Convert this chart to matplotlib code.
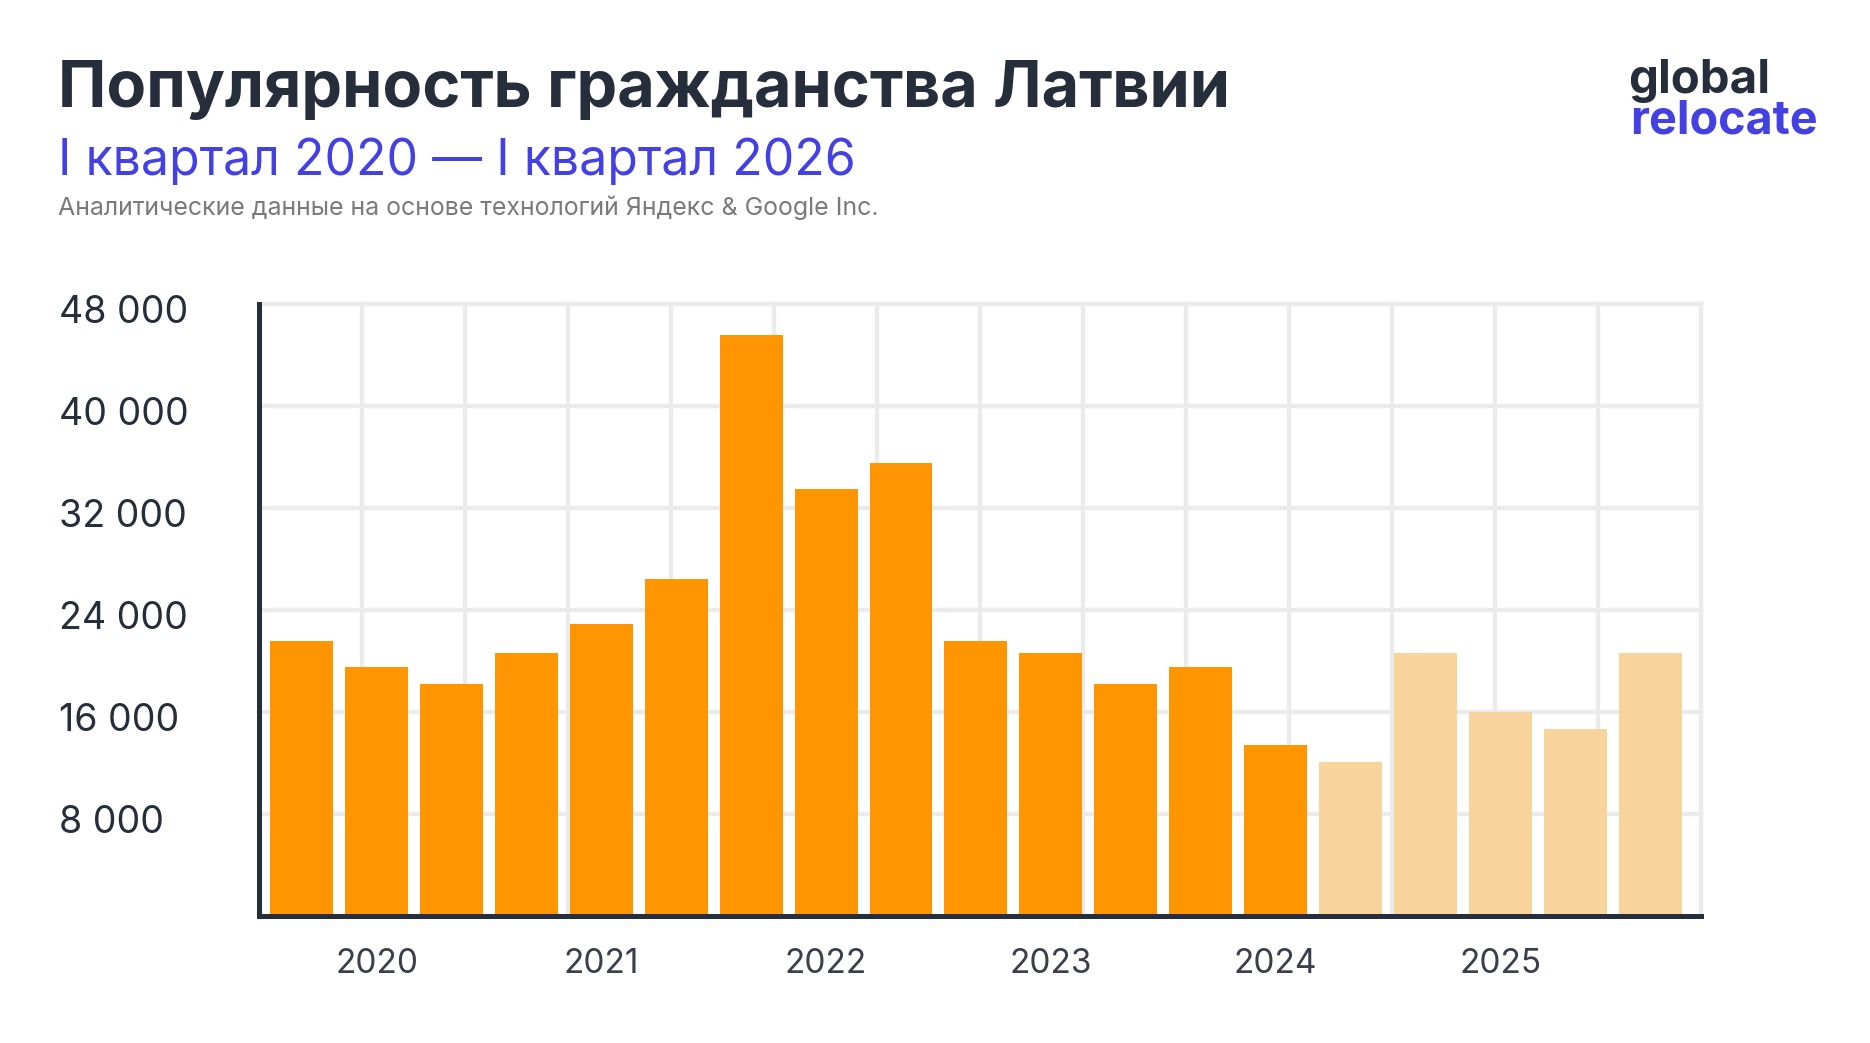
import matplotlib
matplotlib.use("Agg")
import matplotlib.pyplot as plt
from matplotlib.transforms import ScaledTranslation
import numpy as np

# ---- data ----
bar_index = list(range(19))
values = [21600, 19500, 18200, 20600, 22900, 26400, 45600, 33500, 35500,
          21600, 20600, 18200, 19500, 13400, 12100, 20600, 16000, 14700, 20600]
is_light = [False, False, False, False, False, False, False, False, False,
            False, False, False, False, False, True, True, True, True, True]
year_positions = [1, 4, 7, 10, 13, 16]
year_labels = ["2020", "2021", "2022", "2023", "2024", "2025"]
y_ticks = [8000, 16000, 24000, 32000, 40000, 48000]
y_tick_labels = ["8 000", "16 000", "24 000", "32 000", "40 000", "48 000"]

title = "Популярность гражданства Латвии"
subtitle = "I квартал 2020 — I квартал 2026"
source = "Аналитические данные на основе технологий Яндекс & Google Inc."

# ---- style ----
FONT = ["Inter", "DejaVu Sans"]
plt.rcParams["font.family"] = FONT
DARK = "#262d3b"
ORANGE = "#ff9500"
LIGHT = "#f8d49c"
BLUE = "#4340e4"
GRID = "#ebebeb"

W, H = 1870, 1043
fig = plt.figure(figsize=(W / 100, H / 100), dpi=100)
fig.patch.set_facecolor("white")

ax_left, ax_right, ax_top, ax_bottom = 259, 1701, 304, 916
ax = fig.add_axes([ax_left / W, (H - ax_bottom) / H,
                   (ax_right - ax_left) / W, (ax_bottom - ax_top) / H])

colors = [LIGHT if f else ORANGE for f in is_light]
ax.bar(bar_index, values, width=0.84, color=colors, zorder=2)

xlim = (-0.57, 18.68)
ax.set_xlim(*xlim)
ax.set_ylim(0, 48000)

ax.set_yticks(y_ticks, y_tick_labels)
ax.tick_params(axis="y", length=0, pad=(ax_left - 59) * 0.72,
               labelsize=27, labelcolor=DARK)
shift = ScaledTranslation(0, -3.5 / 72, fig.dpi_scale_trans)
for lbl in ax.get_yticklabels():
    lbl.set_horizontalalignment("left")
    lbl.set_transform(lbl.get_transform() + shift)

ax.set_xticks(year_positions, year_labels)
ax.tick_params(axis="x", which="major", length=0, pad=23,
               labelsize=24, labelcolor="#3a3f4b")
minor = np.linspace(xlim[0], xlim[1], 15)[1:]
ax.set_xticks(minor, minor=True)
ax.tick_params(axis="x", which="minor", length=0)

ax.grid(False)
ax.grid(True, which="minor", axis="x", color=GRID, lw=3.2, zorder=0)
ax.grid(True, which="major", axis="y", color=GRID, lw=3.2, zorder=0)
ax.set_axisbelow(True)
for tk in ax.xaxis.get_minor_ticks() + ax.yaxis.get_major_ticks():
    tk.gridline.set_clip_on(False)

for s in ["top", "right"]:
    ax.spines[s].set_visible(False)
for s in ["left", "bottom"]:
    ax.spines[s].set_color(DARK)
    ax.spines[s].set_linewidth(3.6)
    ax.spines[s].set_zorder(3)

# ---- texts ----
def px(x, y):
    return x / W, 1 - y / H

t_title = fig.text(*px(58, 107), title, fontsize=48, fontweight="bold",
                   color=DARK, va="baseline", ha="left")
t_sub = fig.text(*px(58, 175), subtitle, fontsize=36, color=BLUE,
                 va="baseline", ha="left")
t_src = fig.text(*px(58, 215), source, fontsize=18, color="#7a7a7a",
                 va="baseline", ha="left")
t_g = fig.text(*px(1628, 93), "global", fontsize=30, fontweight="bold",
               color=DARK, va="baseline", ha="left")
t_r = fig.text(*px(1630, 133), "relocate", fontsize=30, fontweight="bold",
               color=BLUE, va="baseline", ha="left")

fig.canvas.draw()
r = fig.canvas.get_renderer()
for t, target in [(t_title, 1173), (t_sub, 798), (t_src, 821),
                  (t_g, 142), (t_r, 188)]:
    w = t.get_window_extent(r).width
    t.set_fontsize(t.get_fontsize() * target / w)

fig.savefig("out.png", dpi=100, facecolor="white")
